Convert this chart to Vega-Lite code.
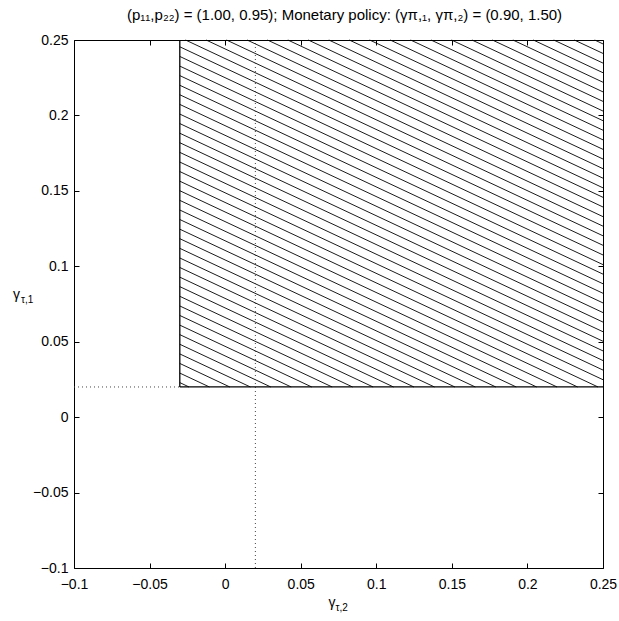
{
  "$schema": "https://vega.github.io/schema/vega-lite/v6.json",
  "width": 529,
  "height": 528,
  "autosize": {"type": "none"},
  "padding": {"left": 74, "top": 40, "right": 16, "bottom": 53},
  "background": "white",
  "title": {"text": "(p₁₁,p₂₂) = (1.00, 0.95); Monetary policy: (γπ,₁, γπ,₂) = (0.90, 1.50)", "font": "Liberation Sans", "fontSize": 15, "fontWeight": "normal", "color": "black", "anchor": "middle", "offset": 10, "dx": 6},
  "config": {
    "view": {"stroke": null},
    "axis": {"domainColor": "black", "domainWidth": 1, "tickColor": "black", "tickWidth": 1, "labelFont": "Liberation Sans", "labelFontSize": 14, "labelColor": "black", "grid": false, "labelFlush": false, "labelOverlap": false, "title": null}
  },
  "datasets": {
    "hatch": [
      {"x": -0.03, "y": 0.0229, "x2": -0.0239, "y2": 0.02},
      {"x": -0.03, "y": 0.0292, "x2": -0.0104, "y2": 0.02},
      {"x": -0.03, "y": 0.0356, "x2": 0.0031, "y2": 0.02},
      {"x": -0.03, "y": 0.0419, "x2": 0.0167, "y2": 0.02},
      {"x": -0.03, "y": 0.0483, "x2": 0.0302, "y2": 0.02},
      {"x": -0.03, "y": 0.0547, "x2": 0.0437, "y2": 0.02},
      {"x": -0.03, "y": 0.0610, "x2": 0.0573, "y2": 0.02},
      {"x": -0.03, "y": 0.0674, "x2": 0.0708, "y2": 0.02},
      {"x": -0.03, "y": 0.0737, "x2": 0.0843, "y2": 0.02},
      {"x": -0.03, "y": 0.0801, "x2": 0.0979, "y2": 0.02},
      {"x": -0.03, "y": 0.0865, "x2": 0.1114, "y2": 0.02},
      {"x": -0.03, "y": 0.0928, "x2": 0.1249, "y2": 0.02},
      {"x": -0.03, "y": 0.0992, "x2": 0.1385, "y2": 0.02},
      {"x": -0.03, "y": 0.1055, "x2": 0.1520, "y2": 0.02},
      {"x": -0.03, "y": 0.1119, "x2": 0.1655, "y2": 0.02},
      {"x": -0.03, "y": 0.1183, "x2": 0.1791, "y2": 0.02},
      {"x": -0.03, "y": 0.1246, "x2": 0.1926, "y2": 0.02},
      {"x": -0.03, "y": 0.1310, "x2": 0.2061, "y2": 0.02},
      {"x": -0.03, "y": 0.1373, "x2": 0.2196, "y2": 0.02},
      {"x": -0.03, "y": 0.1437, "x2": 0.2332, "y2": 0.02},
      {"x": -0.03, "y": 0.1501, "x2": 0.2467, "y2": 0.02},
      {"x": -0.03, "y": 0.1564, "x2": 0.25, "y2": 0.0248},
      {"x": -0.03, "y": 0.1628, "x2": 0.25, "y2": 0.0312},
      {"x": -0.03, "y": 0.1691, "x2": 0.25, "y2": 0.0375},
      {"x": -0.03, "y": 0.1755, "x2": 0.25, "y2": 0.0439},
      {"x": -0.03, "y": 0.1819, "x2": 0.25, "y2": 0.0503},
      {"x": -0.03, "y": 0.1882, "x2": 0.25, "y2": 0.0566},
      {"x": -0.03, "y": 0.1946, "x2": 0.25, "y2": 0.0630},
      {"x": -0.03, "y": 0.2009, "x2": 0.25, "y2": 0.0693},
      {"x": -0.03, "y": 0.2073, "x2": 0.25, "y2": 0.0757},
      {"x": -0.03, "y": 0.2137, "x2": 0.25, "y2": 0.0821},
      {"x": -0.03, "y": 0.2200, "x2": 0.25, "y2": 0.0884},
      {"x": -0.03, "y": 0.2264, "x2": 0.25, "y2": 0.0948},
      {"x": -0.03, "y": 0.2327, "x2": 0.25, "y2": 0.1011},
      {"x": -0.03, "y": 0.2391, "x2": 0.25, "y2": 0.1075},
      {"x": -0.03, "y": 0.2455, "x2": 0.25, "y2": 0.1139},
      {"x": -0.0262, "y": 0.25, "x2": 0.25, "y2": 0.1202},
      {"x": -0.0126, "y": 0.25, "x2": 0.25, "y2": 0.1266},
      {"x": 0.0009, "y": 0.25, "x2": 0.25, "y2": 0.1329},
      {"x": 0.0145, "y": 0.25, "x2": 0.25, "y2": 0.1393},
      {"x": 0.0280, "y": 0.25, "x2": 0.25, "y2": 0.1457},
      {"x": 0.0415, "y": 0.25, "x2": 0.25, "y2": 0.1520},
      {"x": 0.0550, "y": 0.25, "x2": 0.25, "y2": 0.1584},
      {"x": 0.0686, "y": 0.25, "x2": 0.25, "y2": 0.1647},
      {"x": 0.0821, "y": 0.25, "x2": 0.25, "y2": 0.1711},
      {"x": 0.0956, "y": 0.25, "x2": 0.25, "y2": 0.1775},
      {"x": 0.1092, "y": 0.25, "x2": 0.25, "y2": 0.1838},
      {"x": 0.1227, "y": 0.25, "x2": 0.25, "y2": 0.1902},
      {"x": 0.1362, "y": 0.25, "x2": 0.25, "y2": 0.1965},
      {"x": 0.1498, "y": 0.25, "x2": 0.25, "y2": 0.2029},
      {"x": 0.1633, "y": 0.25, "x2": 0.25, "y2": 0.2093},
      {"x": 0.1768, "y": 0.25, "x2": 0.25, "y2": 0.2156},
      {"x": 0.1904, "y": 0.25, "x2": 0.25, "y2": 0.2220},
      {"x": 0.2039, "y": 0.25, "x2": 0.25, "y2": 0.2283},
      {"x": 0.2174, "y": 0.25, "x2": 0.25, "y2": 0.2347},
      {"x": 0.2310, "y": 0.25, "x2": 0.25, "y2": 0.2411},
      {"x": 0.2445, "y": 0.25, "x2": 0.25, "y2": 0.2474}
    ],
    "border": [
      {"x": -0.03, "y": 0.02, "x2": -0.03, "y2": 0.25},
      {"x": -0.03, "y": 0.02, "x2": 0.25, "y2": 0.02}
    ],
    "dotted": [
      {"x": 0.02, "y": -0.1, "x2": 0.02, "y2": 0.25},
      {"x": -0.1, "y": 0.02, "x2": -0.03, "y2": 0.02}
    ]
  },
  "resolve": {"axis": {"x": "independent", "y": "independent"}},
  "layer": [
    {
      "data": {"name": "hatch"},
      "mark": {"type": "rule", "color": "black", "strokeWidth": 0.9},
      "encoding": {
        "x": {"field": "x", "type": "quantitative", "scale": {"domain": [-0.1, 0.25], "nice": false, "zero": false}, "axis": {"orient": "bottom", "values": [-0.1, -0.05, 0, 0.05, 0.1, 0.15, 0.2, 0.25], "format": "~g", "ticks": false, "tickSize": 0, "labelPadding": 9}},
        "y": {"field": "y", "type": "quantitative", "scale": {"domain": [-0.1, 0.25], "nice": false, "zero": false}, "axis": {"orient": "left", "values": [-0.1, -0.05, 0, 0.05, 0.1, 0.15, 0.2, 0.25], "format": "~g", "ticks": false, "tickSize": 0, "labelPadding": 6}},
        "x2": {"field": "x2"},
        "y2": {"field": "y2"}
      }
    },
    {
      "data": {"name": "dotted"},
      "mark": {"type": "rule", "color": "#444444", "strokeWidth": 1, "strokeDash": [1, 3]},
      "encoding": {
        "x": {"field": "x", "type": "quantitative", "scale": {"domain": [-0.1, 0.25], "nice": false, "zero": false}, "axis": {"orient": "top", "offset": -528, "values": [-0.1, -0.05, 0, 0.05, 0.1, 0.15, 0.2, 0.25], "labels": false, "domain": false, "ticks": true, "tickSize": 5}},
        "y": {"field": "y", "type": "quantitative", "scale": {"domain": [-0.1, 0.25], "nice": false, "zero": false}, "axis": {"orient": "right", "offset": -529, "values": [-0.1, -0.05, 0, 0.05, 0.1, 0.15, 0.2, 0.25], "labels": false, "domain": false, "ticks": true, "tickSize": 5}},
        "x2": {"field": "x2"},
        "y2": {"field": "y2"}
      }
    },
    {
      "data": {"name": "border"},
      "mark": {"type": "rule", "color": "black", "strokeWidth": 1.3},
      "encoding": {
        "x": {"field": "x", "type": "quantitative", "scale": {"domain": [-0.1, 0.25], "nice": false, "zero": false}, "axis": {"orient": "bottom", "offset": -528, "values": [-0.1, -0.05, 0, 0.05, 0.1, 0.15, 0.2, 0.25], "labels": false, "domain": true, "ticks": true, "tickSize": 5}},
        "y": {"field": "y", "type": "quantitative", "scale": {"domain": [-0.1, 0.25], "nice": false, "zero": false}, "axis": {"orient": "left", "offset": -529, "values": [-0.1, -0.05, 0, 0.05, 0.1, 0.15, 0.2, 0.25], "labels": false, "domain": true, "ticks": true, "tickSize": 5}},
        "x2": {"field": "x2"},
        "y2": {"field": "y2"}
      }
    },
    {
      "data": {"values": [{"t": "γ"}]},
      "mark": {"type": "text", "font": "Liberation Sans", "fontSize": 14, "color": "black", "align": "right", "baseline": "alphabetic", "dx": -3, "dy": 39},
      "encoding": {
        "x": {"datum": 0.075, "type": "quantitative", "scale": {"domain": [-0.1, 0.25], "nice": false, "zero": false}, "axis": null},
        "y": {"datum": -0.1, "type": "quantitative", "scale": {"domain": [-0.1, 0.25], "nice": false, "zero": false}, "axis": null},
        "text": {"field": "t"}
      }
    },
    {
      "data": {"values": [{"t": "τ,2"}]},
      "mark": {"type": "text", "font": "Liberation Sans", "fontSize": 10, "color": "black", "align": "left", "baseline": "alphabetic", "dx": -3, "dy": 43},
      "encoding": {
        "x": {"datum": 0.075, "type": "quantitative", "scale": {"domain": [-0.1, 0.25], "nice": false, "zero": false}, "axis": null},
        "y": {"datum": -0.1, "type": "quantitative", "scale": {"domain": [-0.1, 0.25], "nice": false, "zero": false}, "axis": null},
        "text": {"field": "t"}
      }
    },
    {
      "data": {"values": [{"t": "γ"}]},
      "mark": {"type": "text", "font": "Liberation Sans", "fontSize": 14, "color": "black", "align": "left", "baseline": "alphabetic", "dx": -61, "dy": -5},
      "encoding": {
        "x": {"datum": -0.1, "type": "quantitative", "scale": {"domain": [-0.1, 0.25], "nice": false, "zero": false}, "axis": null},
        "y": {"datum": 0.075, "type": "quantitative", "scale": {"domain": [-0.1, 0.25], "nice": false, "zero": false}, "axis": null},
        "text": {"field": "t"}
      }
    },
    {
      "data": {"values": [{"t": "τ,1"}]},
      "mark": {"type": "text", "font": "Liberation Sans", "fontSize": 10, "color": "black", "align": "left", "baseline": "alphabetic", "dx": -53, "dy": -1},
      "encoding": {
        "x": {"datum": -0.1, "type": "quantitative", "scale": {"domain": [-0.1, 0.25], "nice": false, "zero": false}, "axis": null},
        "y": {"datum": 0.075, "type": "quantitative", "scale": {"domain": [-0.1, 0.25], "nice": false, "zero": false}, "axis": null},
        "text": {"field": "t"}
      }
    }
  ]
}
